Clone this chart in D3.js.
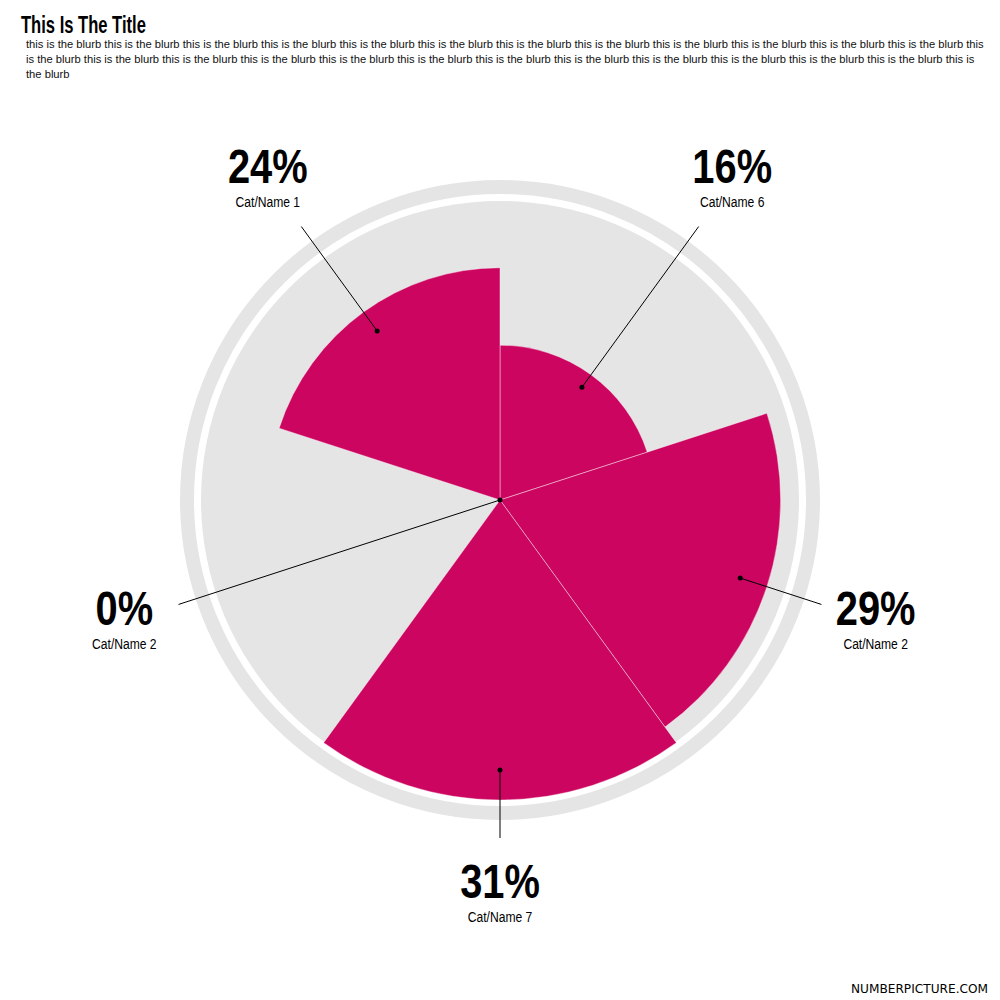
<!DOCTYPE html>
<html>
<head>
<meta charset="utf-8">
<script src="https://cdn.jsdelivr.net/npm/d3@7/dist/d3.min.js"></script>
<style>
  html, body { margin: 0; padding: 0; background: #fff; }
  svg { display: block; }
</style>
</head>
<body>
<svg id="chart" width="1000" height="1000"></svg>
<script>
const title = "This Is The Title";
const blurbLines = [
  "this is the blurb this is the blurb this is the blurb this is the blurb this is the blurb this is the blurb this is the blurb this is the blurb this is the blurb this is the blurb this is the blurb this is the blurb this",
  "is the blurb this is the blurb this is the blurb this is the blurb this is the blurb this is the blurb this is the blurb this is the blurb this is the blurb this is the blurb this is the blurb this is the blurb this is",
  "the blurb"
];
const categories = ["Cat/Name 6", "Cat/Name 2", "Cat/Name 7", "Cat/Name 2", "Cat/Name 1"];
const values = [16, 29, 31, 0, 24];
const valueLabels = ["16%", "29%", "31%", "0%", "24%"];
const footer = "NUMBERPICTURE.COM";

const svg = d3.select("#chart");
const cx = 500, cy = 500;
const maxR = 300;
const FONT = "'Liberation Sans', Arial, sans-serif";

// horizontally condense text (stand-in for the condensed face of the original)
function condense(sel, f) {
  sel.each(function () {
    const L = this.getComputedTextLength();
    d3.select(this).attr("textLength", L * f).attr("lengthAdjust", "spacingAndGlyphs");
  });
}

// Title and blurb
svg.append("text")
  .attr("x", 21).attr("y", 33)
  .attr("font-family", FONT).attr("font-size", 24).attr("font-weight", "bold")
  .attr("fill", "#000")
  .text(title)
  .call(condense, 0.69);

svg.selectAll("text.blurb").data(blurbLines).join("text")
  .attr("class", "blurb")
  .attr("x", 26).attr("y", (d, i) => 48 + i * 15)
  .attr("font-family", FONT).attr("font-size", 11.2)
  .attr("fill", "#111")
  .text(d => d);

const g = svg.append("g").attr("transform", `translate(${cx},${cy})`);

// Background disc and outer ring
g.append("circle").attr("r", 299).attr("fill", "#e5e5e5");
g.append("circle").attr("r", 313).attr("fill", "none")
  .attr("stroke", "#e5e5e5").attr("stroke-width", 14);

const n = values.length;
const step = 2 * Math.PI / n;
const rScale = d3.scaleLinear().domain([0, d3.max(values)]).range([0, maxR]);

const arc = d3.arc()
  .innerRadius(0)
  .outerRadius(d => rScale(d.value))
  .startAngle(d => d.i * step)
  .endAngle(d => (d.i + 1) * step);

const data = values.map((v, i) => ({ value: v, i, cat: categories[i], label: valueLabels[i] }));

g.selectAll("path.slice").data(data).join("path")
  .attr("class", "slice")
  .attr("d", arc)
  .attr("fill", "#cc0660")
  .attr("stroke", "#ffffff")
  .attr("stroke-opacity", 0.5)
  .attr("stroke-width", 0.8);

// Leader lines and dots
const mid = d => (d.i + 0.5) * step;
const pt = (a, r) => [r * Math.sin(a), -r * Math.cos(a)];
const lineEndR = 338;
const labelR = 395;

g.selectAll("line.leader").data(data).join("line")
  .attr("class", "leader")
  .attr("x1", d => pt(mid(d), rScale(d.value) * 0.9)[0])
  .attr("y1", d => pt(mid(d), rScale(d.value) * 0.9)[1])
  .attr("x2", d => pt(mid(d), lineEndR)[0])
  .attr("y2", d => pt(mid(d), lineEndR)[1])
  .attr("stroke", "#000").attr("stroke-width", 1);

g.selectAll("circle.dot").data(data).join("circle")
  .attr("class", "dot")
  .attr("cx", d => pt(mid(d), rScale(d.value) * 0.9)[0])
  .attr("cy", d => pt(mid(d), rScale(d.value) * 0.9)[1])
  .attr("r", 2.5).attr("fill", "#000");

const labels = g.selectAll("g.label").data(data).join("g")
  .attr("class", "label")
  .attr("transform", d => `translate(${pt(mid(d), labelR)[0]},${pt(mid(d), labelR)[1]})`);

labels.append("text")
  .attr("text-anchor", "middle").attr("y", 3)
  .attr("font-family", FONT).attr("font-size", 48).attr("font-weight", "bold")
  .attr("fill", "#000")
  .text(d => d.label)
  .call(condense, 0.83);

labels.append("text")
  .attr("text-anchor", "middle").attr("y", 27)
  .attr("font-family", FONT).attr("font-size", 15.5)
  .attr("fill", "#000")
  .text(d => d.cat)
  .call(condense, 0.78);

// Footer
svg.append("text")
  .attr("x", 988).attr("y", 993)
  .attr("text-anchor", "end")
  .attr("font-family", "'DejaVu Sans', sans-serif").attr("font-size", 13)
  .attr("textLength", 137).attr("lengthAdjust", "spacingAndGlyphs")
  .attr("fill", "#000")
  .text(footer);
</script>
</body>
</html>
